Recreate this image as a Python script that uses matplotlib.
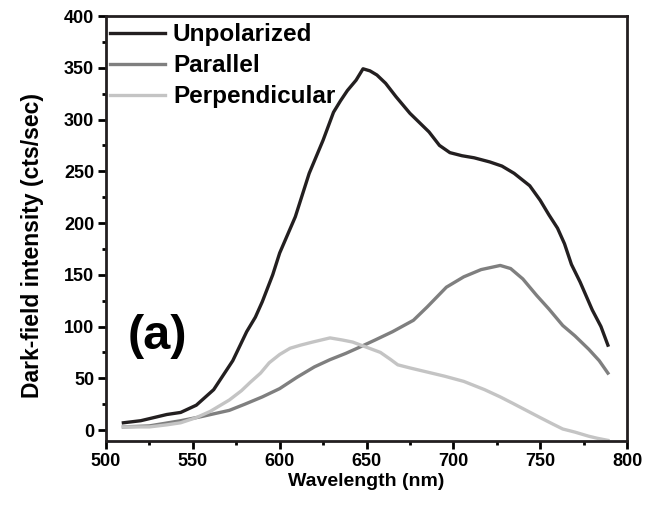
import matplotlib
matplotlib.use("Agg")
import matplotlib.pyplot as plt
import numpy as np

plt.rcParams['font.family'] = ['Liberation Sans', 'DejaVu Sans']
plt.rcParams['font.weight'] = 'bold'

unpol_x = [510, 520, 535, 543, 552, 562, 573, 581, 586, 590, 596, 600, 609, 617, 625, 631, 635, 639, 644, 648, 652, 656, 661, 667, 675, 686, 692, 698, 705, 712, 721, 728, 735, 744, 750, 755, 760, 764, 768, 773, 780, 785, 789]
unpol_y = [7, 9, 15, 17, 24, 39, 67, 95, 109, 124, 150, 171, 206, 248, 280, 307, 318, 328, 338, 349, 347, 343, 335, 322, 306, 288, 275, 268, 265, 263, 259, 255, 248, 236, 222, 208, 195, 180, 160, 143, 116, 100, 82]

par_x = [510, 525, 543, 555, 571, 580, 590, 600, 610, 620, 629, 638, 646, 655, 665, 677, 685, 696, 706, 716, 727, 733, 740, 748, 755, 763, 770, 778, 784, 789]
par_y = [3, 4, 9, 13, 19, 25, 32, 40, 51, 61, 68, 74, 80, 87, 95, 106, 119, 138, 148, 155, 159, 156, 146, 130, 117, 101, 91, 78, 67, 55]

perp_x = [510, 525, 535, 543, 552, 560, 571, 578, 583, 589, 594, 600, 606, 612, 619, 629, 636, 642, 650, 658, 664, 668, 675, 685, 695, 706, 718, 727, 734, 742, 750, 757, 763, 770, 778, 783, 789]
perp_y = [3, 3, 5, 7, 12, 18, 29, 38, 46, 55, 65, 73, 79, 82, 85, 89, 87, 85, 80, 75, 68, 63, 60, 56, 52, 47, 39, 32, 26, 19, 12, 6, 1, -2, -6, -8, -10]

labels = ["Unpolarized", "Parallel", "Perpendicular"]
colors = ["#231f20", "#7f7f7f", "#c4c4c4"]

fig = plt.figure(figsize=(6.58, 5.13), dpi=100)
ax = fig.add_axes([106/658, 1-441/513, (627-106)/658, (441-16)/513])

ax.plot(unpol_x, unpol_y, color=colors[0], lw=2.4, label=labels[0])
ax.plot(par_x, par_y, color=colors[1], lw=2.4, label=labels[1])
ax.plot(perp_x, perp_y, color=colors[2], lw=2.4, label=labels[2])

ax.set_xlim(500, 800)
ax.set_ylim(-10.6, 400)
ax.set_xticks([500, 550, 600, 650, 700, 750, 800])
ax.set_yticks([0, 50, 100, 150, 200, 250, 300, 350, 400])
ax.set_xticks(np.arange(525, 800, 50), minor=True)
ax.set_yticks(np.arange(25, 400, 50), minor=True)
ax.tick_params(axis='both', which='major', direction='out', length=5.5, width=2, labelsize=13, pad=3)
ax.tick_params(axis='both', which='minor', direction='out', length=3, width=2)
for s in ax.spines.values():
    s.set_linewidth(2)
    s.set_color('#231f20')
for lab in ax.get_xticklabels() + ax.get_yticklabels():
    lab.set_fontweight('bold')

ax.set_xlabel("Wavelength (nm)", fontsize=14, fontweight='bold', labelpad=2)
ax.set_ylabel("Dark-field intensity (cts/sec)", fontsize=16.5, fontweight='bold')
ax.yaxis.set_label_coords(-(106-44)/521, (441-245)/425)

leg = ax.legend(loc='upper left', frameon=False, fontsize=17.5, handlelength=2.25,
                handletextpad=0.33, borderaxespad=0.0, borderpad=0.0, labelspacing=0.33,
                bbox_to_anchor=(0.008, 0.983))
for t in leg.get_texts():
    t.set_fontweight('bold')

ax.text(0.098, 0.245, "(a)", transform=ax.transAxes, fontsize=35, fontweight='bold',
        ha='center', va='center')

fig.savefig("out.png", dpi=100)
